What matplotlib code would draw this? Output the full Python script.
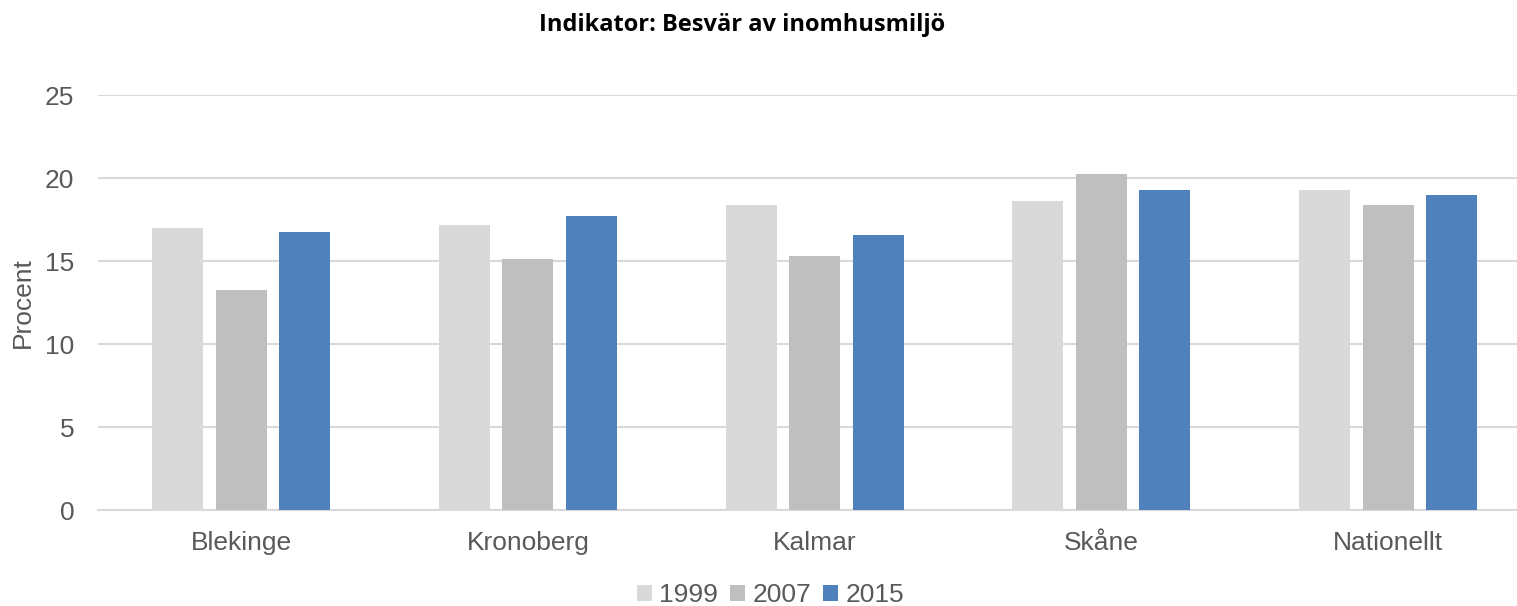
import matplotlib.pyplot as plt
import numpy as np

regions = ['Blekinge', 'Kronoberg', 'Kalmar', 'Skåne', 'Nationellt']
years = ['1999', '2007', '2015']
v1999 = [17.0, 17.2, 18.4, 18.6, 19.3]
v2007 = [13.25, 15.15, 15.3, 20.25, 18.4]
v2015 = [16.75, 17.75, 16.55, 19.3, 19.0]
colors = ['#d9d9d9', '#bfbfbf', '#4f81bd']

plt.rcParams['font.family'] = ['Liberation Sans', 'DejaVu Sans']

fig = plt.figure(figsize=(15.17, 6.06), dpi=100)
ax = fig.add_axes([0.0645, 0.158, 0.945, 0.685])

x = np.arange(len(regions))
width = 0.178
step = 0.2215
for i, (vals, c) in enumerate(zip([v1999, v2007, v2015], colors)):
    ax.bar(x + (i - 1) * step, vals, width, color=c, label=years[i], zorder=3)

ax.set_xlim(-0.5, len(regions) - 0.5)
ax.set_ylim(0, 25)
ax.set_yticks(range(0, 26, 5))
ax.set_xticks(x)
ax.set_xticklabels(regions)
ax.tick_params(axis='both', length=0, labelsize=19, colors='#595959')
ax.tick_params(axis='x', pad=15)
ax.tick_params(axis='y', pad=17)
ax.yaxis.grid(True, color='#d9d9d9', linewidth=1.5, zorder=0)
for s in ['top', 'right', 'left']:
    ax.spines[s].set_visible(False)
ax.spines['bottom'].set_color('#d9d9d9')
ax.spines['bottom'].set_linewidth(1.5)

ax.set_ylabel('Procent', fontsize=19, color='#595959', labelpad=7)

fig.text(0.489, 0.958, 'Indikator: Besvär av inomhusmiljö', ha='center', va='center',
         fontsize=17, fontweight='bold', family=['Open Sans', 'DejaVu Sans'])

fig.legend(loc='center', bbox_to_anchor=(0.508, 0.018), ncol=3, frameon=False,
           fontsize=19, handlelength=0.55, handleheight=0.55, handletextpad=0.3,
           columnspacing=0.45, labelcolor='#595959')

fig.savefig('out.png', dpi=100)
